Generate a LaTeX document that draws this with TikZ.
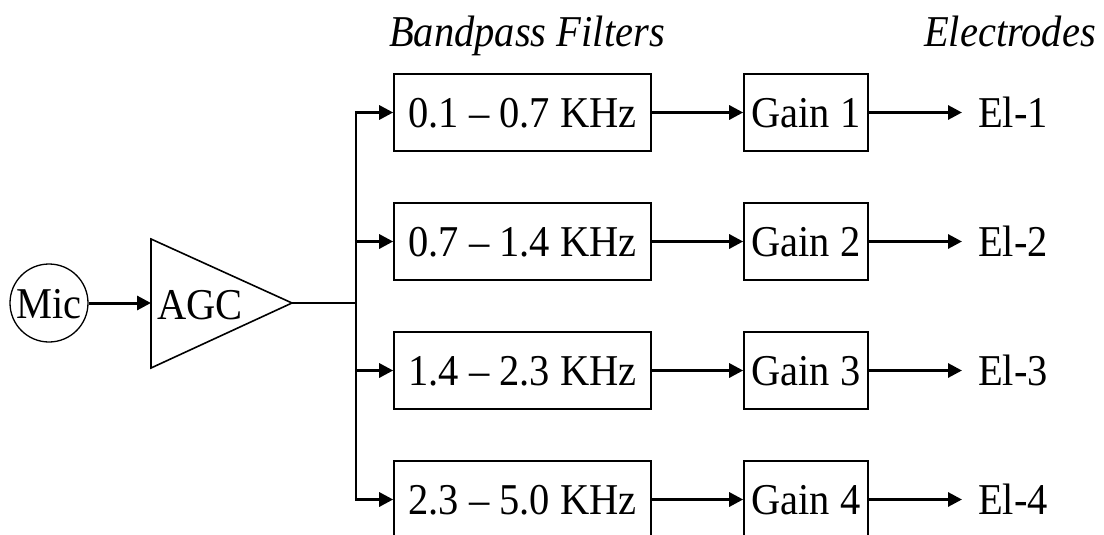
\documentclass[tikz,border=0pt]{standalone}
\usepackage{fontspec}
\setmainfont{Liberation Serif}[FakeStretch=0.92]
\usetikzlibrary{arrows.meta}

\tikzset{
  lbl/.style={font=\fontsize{44}{50}\selectfont, inner sep=0pt, text height=30pt, text depth=0pt},
  blockbox/.style={draw, line width=1.6pt, minimum height=77pt, inner sep=0pt,
    font=\fontsize{44}{50}\selectfont, text height=30pt, text depth=0pt},
  filterbox/.style={blockbox, minimum width=257pt},
  gainbox/.style={blockbox, minimum width=124pt},
  arr/.style={line width=3pt, -{Triangle[length=14pt,width=14pt]}},
  thinwire/.style={line width=1.4pt},
  busline/.style={line width=2.2pt},
  hdr/.style={font=\fontsize{44}{50}\selectfont\itshape, inner sep=0pt, anchor=base}
}

\begin{document}
\begin{tikzpicture}[x=1pt,y=-1pt]
  \useasboundingbox (0,0) rectangle (1104,535);
  \clip (0,0) rectangle (1104,535);

  % headings
  \node[hdr] (hbp) at (527,47) {Bandpass Filters};
  \node[hdr, anchor=base east] (hel) at (1096,47) {Electrodes};

  % microphone
  \node[draw, circle, line width=1.3pt, minimum size=78pt, inner sep=0pt,
        font=\fontsize{44}{50}\selectfont, text height=30pt, text depth=0pt]
        (mic) at (49,303) {Mic};

  % AGC amplifier
  \coordinate (agcin) at (151,303);
  \coordinate (agcout) at (292,303);
  \draw[line width=1.6pt, line join=miter] (151,239) -- (agcout) -- (151,368) -- cycle;
  \node[lbl, anchor=west] (agc) at (157,304) {AGC};

  % split point feeding the filter bank
  \coordinate (split) at (356,303);

  % filter bank, gain stages, electrodes
  \node[filterbox] (f1) at (522.5,112.5) {0.1 -- 0.7 KHz};
  \node[filterbox] (f2) at (522.5,241.5) {0.7 -- 1.4 KHz};
  \node[filterbox] (f3) at (522.5,370.5) {1.4 -- 2.3 KHz};
  \node[filterbox] (f4) at (522.5,499.5) {2.3 -- 5.0 KHz};

  \node[gainbox] (g1) at (806,112.5) {Gain 1};
  \node[gainbox] (g2) at (806,241.5) {Gain 2};
  \node[gainbox] (g3) at (806,370.5) {Gain 3};
  \node[gainbox] (g4) at (806,499.5) {Gain 4};

  \node[lbl, anchor=west] (e1) at (978,112.5) {El-1};
  \node[lbl, anchor=west] (e2) at (978,241.5) {El-2};
  \node[lbl, anchor=west] (e3) at (978,370.5) {El-3};
  \node[lbl, anchor=west] (e4) at (978,499.5) {El-4};

  % connectors
  \draw[arr] (mic) -- (agcin);
  \draw[thinwire] (agcout) -- (split);
  \draw[busline] (split |- f1) -- (split |- f4);

  \foreach \i in {1,2,3,4}{
    \draw[arr] ([xshift=-1.1pt]split |- f\i) -- (f\i.west);
    \draw[arr] (f\i.east) -- (g\i.west);
    \draw[arr, shorten >=16pt] (g\i.east) -- (e\i.west);
  }
\end{tikzpicture}
\end{document}
